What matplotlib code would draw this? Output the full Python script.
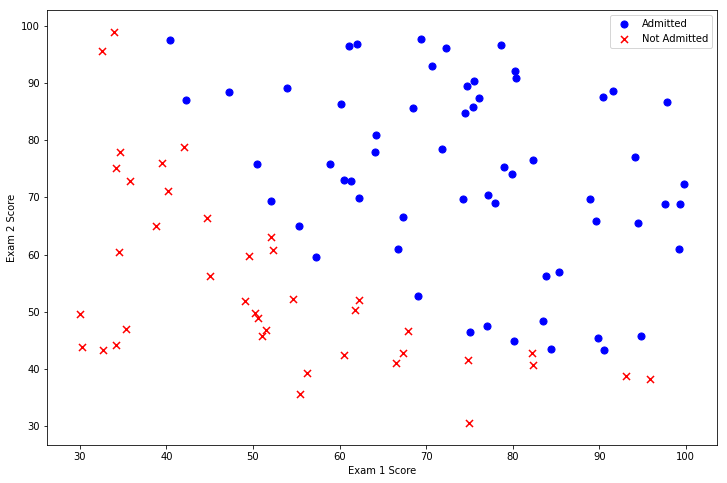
import matplotlib.pyplot as plt

# exam scores (ex2data1)
exam1 = [34.62, 30.29, 35.85, 60.18, 79.03, 45.08, 61.11, 75.02, 76.10, 84.43,
         95.86, 75.01, 82.31, 69.36, 39.54, 53.97, 69.07, 67.95, 70.66, 76.98,
         67.37, 89.68, 50.53, 34.21, 77.92, 62.27, 80.19, 93.11, 61.83, 38.79,
         61.38, 85.40, 52.11, 52.05, 40.24, 54.64, 33.92, 64.18, 74.79, 34.18,
         83.90, 51.55, 94.44, 82.37, 51.05, 62.22, 77.19, 97.77, 62.07, 91.56,
         79.94, 99.27, 90.55, 34.52, 50.29, 49.59, 97.65, 32.58, 74.25, 71.80,
         75.40, 35.29, 56.25, 30.06, 44.67, 66.56, 40.46, 49.07, 80.28, 66.75,
         32.72, 64.04, 72.35, 60.46, 58.84, 99.83, 47.26, 50.46, 60.46, 82.23,
         88.91, 94.83, 67.32, 57.24, 80.37, 68.47, 42.08, 75.48, 78.64, 52.35,
         94.09, 90.45, 55.48, 74.49, 89.85, 83.49, 42.26, 99.32, 55.34, 74.78]
exam2 = [78.02, 43.89, 72.90, 86.31, 75.34, 56.32, 96.51, 46.55, 87.42, 43.53,
         38.23, 30.60, 76.48, 97.72, 76.04, 89.21, 52.74, 46.68, 92.93, 47.58,
         42.84, 65.80, 48.86, 44.21, 68.97, 69.95, 44.82, 38.80, 50.26, 65.00,
         72.81, 57.05, 63.13, 69.43, 71.17, 52.21, 98.87, 80.91, 41.57, 75.24,
         56.31, 46.86, 65.57, 40.62, 45.82, 52.06, 70.46, 86.73, 96.77, 88.70,
         74.16, 61.00, 43.39, 60.40, 49.80, 59.81, 68.86, 95.60, 69.82, 78.45,
         85.76, 47.02, 39.26, 49.59, 66.45, 41.09, 97.54, 51.88, 92.12, 60.99,
         43.31, 78.03, 96.23, 73.09, 75.86, 72.37, 88.48, 75.81, 42.51, 42.72,
         69.80, 45.69, 66.59, 59.51, 90.96, 85.59, 78.84, 90.42, 96.65, 60.77,
         77.16, 87.51, 35.57, 84.85, 45.36, 48.38, 87.10, 68.78, 64.96, 89.53]
admitted = [0, 0, 0, 1, 1, 0, 1, 1, 1, 1,
            0, 0, 1, 1, 0, 1, 1, 0, 1, 1,
            0, 1, 0, 0, 1, 1, 1, 0, 0, 0,
            1, 1, 0, 1, 0, 0, 0, 1, 0, 0,
            1, 0, 1, 0, 0, 0, 1, 1, 1, 1,
            1, 1, 1, 0, 0, 0, 1, 0, 1, 1,
            1, 0, 0, 0, 0, 0, 1, 0, 1, 1,
            0, 1, 1, 1, 1, 1, 1, 1, 0, 0,
            1, 1, 1, 1, 1, 1, 0, 1, 1, 0,
            1, 1, 0, 1, 1, 1, 1, 1, 1, 1]

pos_x = [a for a, y in zip(exam1, admitted) if y == 1]
pos_y = [b for b, y in zip(exam2, admitted) if y == 1]
neg_x = [a for a, y in zip(exam1, admitted) if y == 0]
neg_y = [b for b, y in zip(exam2, admitted) if y == 0]

fig, ax = plt.subplots(figsize=(727 / 72, 483 / 72), dpi=72)
fig.subplots_adjust(left=0.0646, right=0.9862, top=0.9793, bottom=0.0787)
ax.scatter(pos_x, pos_y, s=50, c='b', marker='o', label='Admitted')
ax.scatter(neg_x, neg_y, s=50, c='r', marker='x', label='Not Admitted')
ax.set_xlim(26.2, 103.6)
ax.set_ylim(26.7, 102.8)
ax.legend(loc='upper right')
ax.set_xlabel('Exam 1 Score')
ax.set_ylabel('Exam 2 Score')
fig.savefig('out.png', dpi=72)
